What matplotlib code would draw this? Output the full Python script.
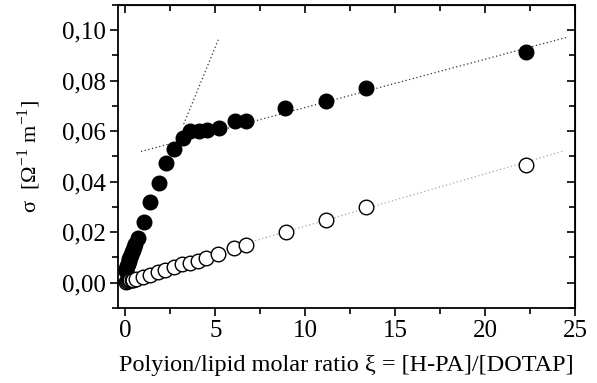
import matplotlib
matplotlib.use("Agg")
import matplotlib.pyplot as plt
import numpy as np
from matplotlib.ticker import MultipleLocator, FuncFormatter

plt.rcParams['font.family'] = ['Liberation Serif', 'DejaVu Serif']
plt.rcParams['mathtext.fontset'] = 'stix'

# filled circles
filled_x = [0.02, 0.06, 0.1, 0.14, 0.18, 0.22, 0.27, 0.32, 0.37, 0.42, 0.47, 0.53,
            0.68, 1.02, 1.39, 1.85, 2.26, 2.72, 3.2, 3.61, 4.07, 4.54, 5.18,
            6.07, 6.72, 8.9, 11.17, 13.39, 22.28]
filled_y = [0.0045, 0.0055, 0.0065, 0.0075, 0.0085, 0.0093, 0.010, 0.011, 0.012,
            0.013, 0.014, 0.0155, 0.0177, 0.0239, 0.032, 0.0393, 0.0475, 0.053,
            0.0575, 0.0602, 0.0599, 0.0605, 0.0611, 0.0639, 0.0639, 0.069,
            0.0721, 0.0771, 0.0915]

# open circles
open_x = [0.03, 0.08, 0.13, 0.19, 0.26, 0.34, 0.42, 0.59, 0.98, 1.39, 1.8, 2.22,
          2.69, 3.15, 3.57, 4.02, 4.5, 5.13, 6.06, 6.7, 8.94, 11.17, 13.37, 22.28]
open_y = [0.0004, 0.0006, 0.0008, 0.0009, 0.0010, 0.0011, 0.0012, 0.0015, 0.0024,
          0.0032, 0.0041, 0.005, 0.0061, 0.0074, 0.0076, 0.0087, 0.0098, 0.0114,
          0.0137, 0.0149, 0.0199, 0.0248, 0.0298, 0.0467]

# linear fits: slope, intercept, x start, x end
fit_plateau = (0.00191, 0.0503, 0.87, 24.5)
fit_initial = (0.01737, 0.0065, 3.24, 5.18)
fit_open = (0.00207, 0.0017, 0.0, 24.44)

fig = plt.figure(figsize=(5.97, 3.83), dpi=100)
ax = fig.add_axes([0.198, 0.196, 0.765, 0.791])

def fit_line(p, color, lw):
    s, b, x0, x1 = p
    xx = np.array([x0, x1])
    ax.plot(xx, s * xx + b, linestyle=(0, (1, 2)), color=color, lw=lw, zorder=1)

fit_line(fit_plateau, '#333333', 0.9)
fit_line(fit_initial, '#333333', 0.9)
fit_line(fit_open, '#a8a8a8', 0.9)

ax.plot(filled_x, filled_y, 'o', ms=10.5, mfc='black', mec='black', mew=1, zorder=2)
ax.plot(open_x, open_y, 'o', ms=10.5, mfc='white', mec='black', mew=1, zorder=3)

ax.set_xlim(-0.4, 25)
ax.set_ylim(-0.01, 0.11)
ax.xaxis.set_major_locator(MultipleLocator(5))
ax.xaxis.set_minor_locator(MultipleLocator(2.5))
ax.yaxis.set_major_locator(MultipleLocator(0.02))
ax.yaxis.set_minor_locator(MultipleLocator(0.01))
ax.yaxis.set_major_formatter(FuncFormatter(lambda v, p: ('%.2f' % v).replace('.', ',')))

for sp in ax.spines.values():
    sp.set_linewidth(1.3)
ax.tick_params(which='major', direction='out', length=6, width=1.2, labelsize=18, pad=3)
ax.tick_params(which='minor', direction='out', length=4, width=1.2)

# mirrored ticks pointing inward on top and right
top = ax.secondary_xaxis('top')
top.xaxis.set_major_locator(MultipleLocator(5))
top.xaxis.set_minor_locator(MultipleLocator(2.5))
top.tick_params(which='major', direction='in', length=6, width=1.2, labeltop=False)
top.tick_params(which='minor', direction='in', length=4, width=1.2)
right = ax.secondary_yaxis('right')
right.yaxis.set_major_locator(MultipleLocator(0.02))
right.yaxis.set_minor_locator(MultipleLocator(0.01))
right.tick_params(which='major', direction='in', length=6, width=1.2, labelright=False)
right.tick_params(which='minor', direction='in', length=4, width=1.2)

ax.set_xlabel('Polyion/lipid molar ratio ξ = [H-PA]/[DOTAP]', fontsize=17.5, labelpad=9)
ax.set_ylabel(r'σ  [Ω$^{\mathregular{-1}}$ m$^{\mathregular{-1}}$]', fontsize=16)
ax.yaxis.set_label_coords(-0.165, 0.5)

fig.savefig('out.png', dpi=100)
